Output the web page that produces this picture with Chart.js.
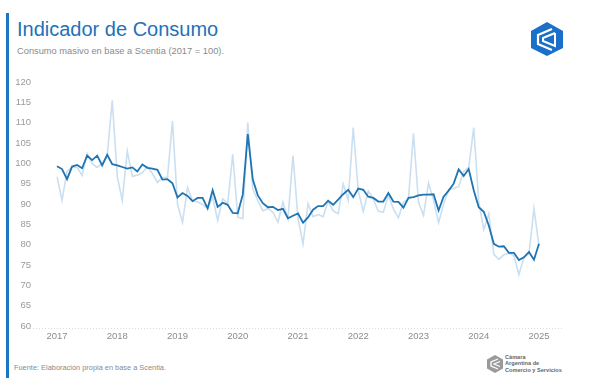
<!DOCTYPE html>
<html>
<head>
<meta charset="utf-8">
<script src="https://cdn.jsdelivr.net/npm/chart.js@4.4.1/dist/chart.umd.min.js"></script>
<style>
  body { margin: 0; background: #fff; font-family: "Liberation Sans", Arial, sans-serif; }
  #wrap { position: relative; width: 592px; height: 389px; overflow: hidden; }
  #bar { position: absolute; left: 6px; top: 13px; width: 3px; height: 365px; background: #1a75c2; }
  #titulo { position: absolute; left: 17px; top: 18px; font-size: 20px; color: #2272b8; white-space: nowrap; }
  #sub { position: absolute; left: 17px; top: 46px; font-size: 9.3px; color: #8a8a8a; white-space: nowrap; }
  #fuente { position: absolute; left: 14px; top: 363px; font-size: 7.4px; color: #8a8a8a; white-space: nowrap; }
  #logo { position: absolute; left: 528px; top: 21px; }
  #cac { position: absolute; left: 486px; top: 354px; }
  #cactxt { position: absolute; left: 505px; top: 354px; font-size: 5.6px; line-height: 6.3px; font-weight: bold; color: #666; white-space: nowrap; }
  canvas { position: absolute; left: 0; top: 0; }
</style>
</head>
<body>
<div id="wrap">
  <div id="bar"></div>
  <div id="titulo">Indicador de Consumo</div>
  <div id="sub">Consumo masivo en base a Scentia (2017 = 100).</div>
  <svg id="logo" width="38" height="36" viewBox="0 0 38 36">
    <polygon points="19,1 35,10 35,27 19,35 3,27 3,10" fill="#1a6fc9"/>
    <polyline points="24,8 10,14 10,23 24,29" fill="none" stroke="#fff" stroke-width="2.2"/>
    <polyline points="27,12 15,17 15,20 27,25 27,12" fill="none" stroke="#fff" stroke-width="2"/>
  </svg>
  <svg id="cac" width="18" height="20" viewBox="0 0 18 20">
    <polygon points="9,1 17,5.5 17,14.5 9,19 1,14.5 1,5.5" fill="#9a9a9a"/>
    <polyline points="12,5 5,8 5,12 12,15" fill="none" stroke="#fff" stroke-width="1.3"/>
    <polyline points="14,7.5 8,10 14,12.5" fill="none" stroke="#fff" stroke-width="1.2"/>
  </svg>
  <div id="cactxt">Cámara<br>Argentina de<br>Comercio y Servicios</div>
  <div id="fuente">Fuente: Elaboración propia en base a Scentia.</div>
  <canvas id="grafico" width="592" height="389"></canvas>
</div>
<script>
// ene-2017 a ene-2025, mensual
var anios = ['2017', '2018', '2019', '2020', '2021', '2022', '2023', '2024', '2025'];
var ticksY = [60, 65, 70, 75, 80, 85, 90, 95, 100, 105, 110, 115, 120];

// serie original (celeste)
var original = [
    96.7, 90.9, 98.0, 99.1, 99.0, 97.0, 102.4, 99.9, 99.0, 100.0, 101.9, 115.5,
    96.8, 90.9, 103.0, 96.8, 97.1, 97.7, 99.2, 97.5, 95.3, 96.5, 96.5, 110.4,
    90.0, 85.5, 94.0, 90.8, 90.5, 89.9, 88.9, 91.7, 86.0, 91.3, 90.1, 102.2,
    86.8, 86.4, 110.0, 93.7, 90.9, 88.3, 88.9, 88.0, 85.5, 90.5, 86.4, 101.9,
    86.5, 80.2, 90.1, 86.9, 87.4, 86.9, 90.7, 88.3, 87.6, 94.9, 90.9, 108.8,
    93.3, 88.2, 93.2, 91.2, 88.2, 88.0, 92.1, 88.8, 86.6, 90.5, 91.2, 107.4,
    90.5, 87.2, 95.2, 90.9, 85.4, 90.0, 93.5, 93.8, 94.3, 98.0, 99.0, 108.8,
    90.5, 83.7, 87.6, 77.6, 76.4, 77.5, 77.9, 77.3, 72.6, 76.9, 77.7, 88.9,
    79.7
];

// serie desestacionalizada (azul)
var desest = [
    99.3, 98.6, 96.1, 99.2, 99.6, 98.8, 101.9, 100.8, 101.9, 99.5, 102.1, 99.8,
    99.5, 99.1, 98.7, 99.0, 98.0, 99.7, 98.9, 98.7, 98.4, 96.0, 96.1, 95.1,
    91.6, 92.7, 92.0, 90.7, 91.5, 91.5, 88.9, 93.4, 89.3, 90.3, 89.8, 87.8,
    87.7, 92.3, 107.2, 96.0, 92.1, 90.2, 89.2, 89.3, 88.5, 88.8, 86.5, 87.1,
    87.7, 85.4, 86.7, 88.6, 89.5, 89.5, 90.8, 89.8, 91.1, 92.4, 93.5, 91.7,
    93.8, 93.5, 91.8, 91.5, 90.6, 90.6, 92.7, 90.6, 90.5, 89.1, 91.5, 91.7,
    92.1, 92.3, 92.3, 92.4, 88.4, 91.8, 93.3, 95.0, 98.5, 96.9, 98.6, 93.4,
    89.2, 88.1, 84.7, 80.2, 79.5, 79.6, 78.0, 78.0, 76.2, 76.9, 78.2, 76.3,
    80.2
];

var etiquetas = [];
for (var a = 0; a < anios.length; a++) {
    for (var m = 0; m < 12; m++) {
        if (etiquetas.length < original.length) etiquetas.push(m == 0 ? anios[a] : '');
    }
}

// linea punteada de base, mas ancha que el area del grafico
var lineaBase = {
    id: 'lineaBase',
    beforeDatasetsDraw: function (chart) {
        var c = chart.ctx;
        var yb = chart.chartArea.bottom + 2;
        c.save();
        c.strokeStyle = '#dcdcdc';
        c.lineWidth = 1;
        c.setLineDash([1, 2]);
        c.beginPath();
        c.moveTo(30, yb + 0.5);
        c.lineTo(562, yb + 0.5);
        c.stroke();
        c.restore();
    }
};

const ctx = document.getElementById('grafico');
var data = {
    labels: etiquetas,
    datasets: [{
        label: 'Desestacionalizada',
        data: desest,
        borderColor: '#1f74b3',
        borderWidth: 1.8,
        pointRadius: 0,
        tension: 0
    }, {
        label: 'Original',
        data: original,
        borderColor: '#cbdff0',
        borderWidth: 1.6,
        pointRadius: 0,
        tension: 0
    }]
};
var option = {
    responsive: false,
    animation: false,
    layout: { padding: { left: 0, right: 53, top: 82, bottom: 43 } },
    plugins: { legend: false, tooltip: { enabled: false } },
    scales: {
        x: {
            offset: false,
            grid: { display: false, drawTicks: false },
            border: { display: false },
            ticks: {
                autoSkip: false, maxRotation: 0, padding: 5,
                color: '#8c8c8c', font: { size: 9.5, family: 'Liberation Sans' },
                callback: function (v, i) { return etiquetas[i] || null; }
            },
            afterFit: function (s) { s.height = 20; }
        },
        y: {
            min: ticksY[0], max: ticksY[ticksY.length - 1],
            afterBuildTicks: function (s) { s.ticks = ticksY.map(function (v) { return { value: v }; }); },
            grid: { display: false, drawTicks: false },
            border: { display: false },
            ticks: { padding: 26, color: '#9a9a9a', font: { size: 9.5, family: 'Liberation Sans' } },
            afterFit: function (s) { s.width = 57; }
        }
    }
};
var graphique = new Chart(ctx, { type: 'line', data: data, options: option, plugins: [lineaBase] });
</script>
</body>
</html>
